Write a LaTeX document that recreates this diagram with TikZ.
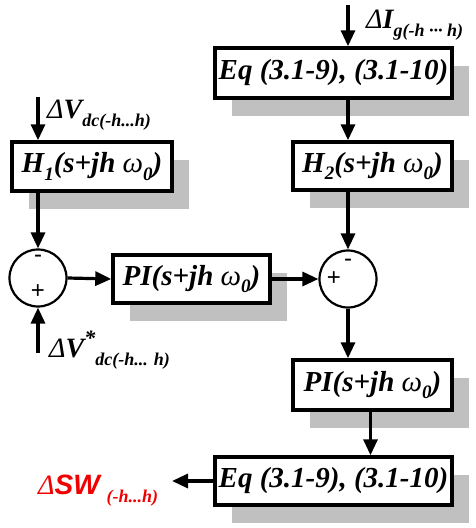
\documentclass[tikz,border=0pt]{standalone}
\usepackage{fontspec}
\setmainfont{Liberation Serif}
\newfontfamily\sansf{Liberation Sans}
\usetikzlibrary{arrows.meta,shadows}
\definecolor{shadowgray}{RGB}{192,192,192}
\definecolor{sigred}{RGB}{240,0,0}
\newcommand\lowsub[1]{\raisebox{-0.3em}{\fontsize{18}{18}\selectfont #1}}
\newcommand\bsub{\raisebox{-0.25em}}
\newcommand\bsubtxt[1]{\bsub{\fontsize{19}{19}\selectfont #1}}
\newcommand\omg{{\mdseries\itshape ω}}
\newcommand\dlt{{\mdseries\itshape Δ}}
\begin{document}
\begin{tikzpicture}[x=1pt,y=-1pt,
  blk/.style={draw, line width=3.5pt, fill=white, inner sep=0pt,
    font=\fontsize{29}{29}\selectfont\bfseries\itshape,
    drop shadow={shadow xshift=17pt, shadow yshift=-18pt, fill=shadowgray, opacity=1, draw=none}},
  sumc/.style={circle, draw, line width=2.2pt, minimum size=57pt, inner sep=0pt, fill=white},
  sgn/.style={inner sep=0pt, font=\sansf\fontsize{24}{24}\selectfont},
  arr/.style={line width=3.2pt, -{Triangle[length=16pt,width=14pt]}},
  lbl/.style={inner sep=0pt, anchor=base west, font=\fontsize{28}{28}\selectfont\bfseries\itshape}]
\useasboundingbox (0,0) rectangle (475,528);
% blocks
\node[blk, minimum width=237pt, minimum height=50pt] (eq1) at (333.5,73) {Eq (3.1-9), (3.1-10)};
\node[blk, minimum width=159pt, minimum height=48pt] (h2) at (372.5,166) {H\bsubtxt{2}(s+jh \omg\bsubtxt{0})};
\node[blk, minimum width=160pt, minimum height=49pt] (h1) at (92,166.5) {H\bsubtxt{1}(s+jh \omg\bsubtxt{0})};
\node[blk, minimum width=157pt, minimum height=48pt] (pi1) at (191.5,279) {PI(s+jh \omg\bsubtxt{0})};
\node[blk, minimum width=159pt, minimum height=50pt] (pi2) at (372.5,385) {PI(s+jh \omg\bsubtxt{0})};
\node[blk, minimum width=237pt, minimum height=48pt] (eq2) at (333.5,481) {Eq (3.1-9), (3.1-10)};
% summing junctions
\node[sumc] (s1) at (38,278) {};
\node[sumc] (s2) at (348,279) {};
\node[sgn] (s1m) at ([yshift=19pt]s1.center) {-};
\node[sgn] (s1p) at ([yshift=-14pt]s1.center) {+};
\node[sgn] (s2m) at ([yshift=16pt]s2.center) {-};
\node[sgn] (s2p) at ([xshift=-14pt]s2.center) {+};
% free ends
\coordinate (inI) at (348,5);
\coordinate (inV) at (38,97);
\coordinate (inVs) at (38,353);
\coordinate (outSW) at (172,481);
% labels
\node[lbl] (lI) at (366,28) {\dlt I\lowsub{g(-h ··· h)}};
\node[lbl] (lV) at (47,118) {\dlt V\lowsub{dc(-h...h)}};
\node[lbl] (lVs) at (49,357) {\dlt V\raisebox{0.42em}{\fontsize{22}{22}\selectfont *}\lowsub{dc(-h... h)}};
\node[lbl, text=sigred] (lSW) at (38,494) {\dlt{\sansf SW} \lowsub{(-h...h)}};
% connectors
\draw[arr] (inI) -- (inI |- eq1.north);
\draw[arr] (s2 |- eq1.south) -- (s2 |- h2.north);
\draw[arr] (s2 |- h2.south) -- (s2.north);
\draw[arr] (s2.south) -- (s2 |- pi2.north);
\draw[arr] ([xshift=-2pt]pi2.south) -- ([xshift=-2pt]pi2.south |- eq2.north);
\draw[arr] (eq2.west) -- (outSW);
\draw[arr] (inV) -- (s1 |- h1.north);
\draw[arr] (s1 |- h1.south) -- (s1.north);
\draw[arr] (inVs) -- (s1.south);
\draw[arr] (s1.east) -- (pi1.west);
\draw[arr] (pi1.east) -- (s2.west);
\end{tikzpicture}
\end{document}
